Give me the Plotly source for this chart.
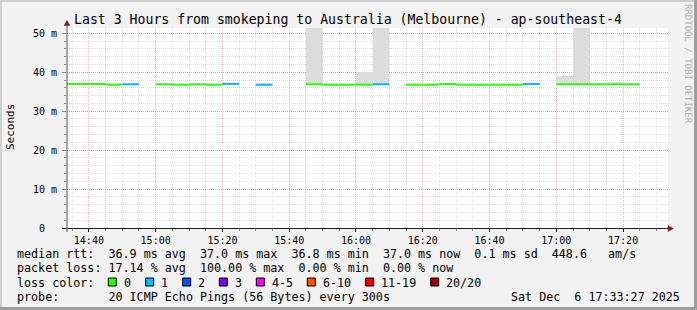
import plotly.graph_objects as go
from datetime import datetime, timedelta

# ---------------- data ----------------
bin_end = ["14:35", "14:40", "14:45", "14:50", "14:55", "15:00", "15:05", "15:10",
           "15:15", "15:20", "15:25", "15:30", "15:35", "15:40", "15:45", "15:50",
           "15:55", "16:00", "16:05", "16:10", "16:15", "16:20", "16:25", "16:30",
           "16:35", "16:40", "16:45", "16:50", "16:55", "17:00", "17:05", "17:10",
           "17:15", "17:20", "17:25"]
median_ms = [37.0, 37.0, 37.0, 36.8, 36.9, None, 36.9, 36.8,
             36.9, 36.8, 37.0, None, 36.8, None, None, 36.9,
             36.8, 36.8, 36.8, 36.9, None, 36.8, 36.8, 37.0,
             36.8, 36.8, 36.8, 36.8, 37.0, None, 36.9, 36.9,
             36.9, 36.9, 36.9]
loss_count = [0, 0, 0, 0, 1, 20, 0, 0,
              0, 0, 1, 20, 1, 20, 20, 0,
              0, 0, 0, 1, 20, 0, 0, 0,
              0, 0, 0, 0, 1, 20, 0, 0,
              0, 0, 0]
# smoke (min / max rtt of the pings) where visible
smoke_bins = ["15:50", "16:05", "16:10", "17:05", "17:10", "17:20"]
smoke_min_ms = [36.7, 36.7, 36.7, 36.7, 36.7, 36.7]
smoke_max_ms = [80.0, 40.0, 80.0, 39.0, 80.0, 37.6]

loss_labels = ["0", "1", "2", "3", "4-5", "6-10", "11-19", "20/20"]
loss_colors = ["#26FF00", "#00B8FF", "#0059FF", "#7E00FF", "#FF00FF", "#FF5500", "#FF0000", "#A10000"]
y_tickvals = [0, 10, 20, 30, 40, 50]
y_ticktext = ["0\u00a0\u00a0", "10 m", "20 m", "30 m", "40 m", "50 m"]

DAY = "2025-12-06 "
X_START = DAY + "14:33:27"
X_END = DAY + "17:33:27"
MONO = "DejaVu Sans Mono"


def t(s):
    return datetime.strptime(DAY + s, "%Y-%m-%d %H:%M")


def loss_idx(n):
    if n <= 3:
        return n
    if n <= 5:
        return 4
    if n <= 10:
        return 5
    if n <= 19:
        return 6
    return 7


STEP = timedelta(minutes=5)

fig = go.Figure()

# smoke
fig.add_trace(go.Bar(
    x=[t(s) - STEP / 2 for s in smoke_bins],
    y=[mx - mn for mn, mx in zip(smoke_min_ms, smoke_max_ms)],
    base=smoke_min_ms,
    width=STEP.total_seconds() * 1000,
    marker=dict(color="#DCDCDC", line=dict(width=0)),
    hoverinfo="skip",
))

# median line coloured by loss
for ci, col in enumerate(loss_colors):
    xs, ys = [], []
    for s, v, n in zip(bin_end, median_ms, loss_count):
        if v is None or loss_idx(n) != ci:
            continue
        xs += [t(s) - STEP, t(s), None]
        ys += [v, v, None]
    if xs:
        fig.add_trace(go.Scatter(x=xs, y=ys, mode="lines",
                                 line=dict(color=col, width=2),
                                 hoverinfo="skip"))

# ---------------- layout ----------------
L, R, T, B = 67, 668, 28, 228


def px(x):
    return (x - L) / (R - L)


def py(y):
    return (B - y) / (B - T)


grid_minor = "rgba(143,143,143,0.30)"
grid_major = "rgba(222,80,80,0.40)"

fig.update_layout(
    width=697, height=310,
    margin=dict(l=L, r=697 - R, t=T, b=310 - B),
    paper_bgcolor="#F2F2F2", plot_bgcolor="#FFFFFF",
    showlegend=False, bargap=0,
    font=dict(family=MONO, size=10, color="#000000"),
    xaxis=dict(
        type="date", range=[X_START, X_END],
        tick0=DAY + "14:40:00", dtick=20 * 60 * 1000, tickformat="%H:%M",
        showgrid=True, gridcolor=grid_major, griddash="1px,1px", gridwidth=1,
        ticks="outside", ticklen=3, tickcolor="#1F1F1F",
        showline=False, zeroline=False,
        tickfont=dict(family=MONO, size=10, color="#000000"),
        minor=dict(tick0=DAY + "14:40:00", dtick=5 * 60 * 1000, showgrid=True,
                   gridcolor=grid_minor, griddash="1px,1px", gridwidth=1,
                   ticks="outside", ticklen=2, tickcolor="#8F8F8F"),
    ),
    yaxis=dict(
        range=[0, 51.36],
        tickvals=y_tickvals, ticktext=y_ticktext,
        showgrid=True, gridcolor=grid_major, griddash="1px,1px", gridwidth=1,
        ticks="outside", ticklen=4, tickcolor="#8F8F8F", ticklabelstandoff=3,
        showline=False, zeroline=False,
        tickfont=dict(family=MONO, size=10, color="#000000"),
        minor=dict(dtick=2, showgrid=True, gridcolor=grid_minor,
                   griddash="1px,1px", gridwidth=1,
                   ticks="outside", ticklen=2, tickcolor="#8F8F8F"),
    ),
)

shapes = []
# border shading
shapes.append(dict(type="rect", xref="paper", yref="paper", x0=px(0), x1=px(697), y0=py(0), y1=py(2),
                   fillcolor="#CFCFCF", line=dict(width=0), layer="below"))
shapes.append(dict(type="rect", xref="paper", yref="paper", x0=px(0), x1=px(2), y0=py(0), y1=py(310),
                   fillcolor="#CFCFCF", line=dict(width=0), layer="below"))
shapes.append(dict(type="rect", xref="paper", yref="paper", x0=px(0), x1=px(697), y0=py(307), y1=py(310),
                   fillcolor="#9E9E9E", line=dict(width=0), layer="below"))
shapes.append(dict(type="rect", xref="paper", yref="paper", x0=px(694), x1=px(697), y0=py(0), y1=py(310),
                   fillcolor="#9E9E9E", line=dict(width=0), layer="below"))
# axes
shapes.append(dict(type="line", xref="paper", yref="paper", x0=px(62), x1=px(669), y0=py(228.5), y1=py(228.5),
                   line=dict(color="#1F1F1F", width=1)))
shapes.append(dict(type="line", xref="paper", yref="paper", x0=px(67), x1=px(67), y0=py(232), y1=py(25),
                   line=dict(color="#555555", width=1)))
# arrows
shapes.append(dict(type="path", xref="paper", yref="paper",
                   path=f"M {px(668)} {py(225.5)} L {px(673.5)} {py(228.5)} L {px(668)} {py(231.5)} Z",
                   fillcolor="#7F1F1F", line=dict(color="#7F1F1F", width=0.5)))
shapes.append(dict(type="path", xref="paper", yref="paper",
                   path=f"M {px(64)} {py(25.5)} L {px(67)} {py(20.5)} L {px(70)} {py(25.5)} Z",
                   fillcolor="#7F1F1F", line=dict(color="#7F1F1F", width=0.5)))

ann = []


def text(x, y, s, size=11.7, xanchor="left", color="#000000", angle=0, yanchor="middle"):
    ann.append(dict(x=px(x), y=py(y), xref="paper", yref="paper", text=s.replace(" ", "\u00a0"),
                    showarrow=False, xanchor=xanchor, yanchor=yanchor, borderpad=0,
                    textangle=angle, font=dict(family=MONO, size=size, color=color)))


text(347.7, 19, "Last 3 Hours from smokeping to Australia (Melbourne) - ap-southeast-4", size=13.2, xanchor="center")
text(10, 127, "Seconds", size=11, xanchor="center", angle=-90)
text(688, 3, "RRDTOOL / TOBI OETIKER", size=9, xanchor="center", color="#AAAAAA", angle=90, yanchor="top")

text(16, 254.3, "median rtt:  36.9 ms avg  37.0 ms max  36.8 ms min  37.0 ms now  0.1 ms sd  448.6   am/s")
text(16, 268.3, "packet loss: 17.14 % avg  100.00 % max  0.00 % min  0.00 % now")
text(16, 282.5, "loss color:")
text(16, 296.7, "probe:       20 ICMP Echo Pings (56 Bytes) every 300s")
text(681, 296.7, "Sat Dec  6 17:33:27 2025", xanchor="right")

sq_x = [108.3, 145.7, 182.7, 219.3, 256.3, 307.3, 365.7, 430.7]
lab_x = [123, 160, 197, 234, 270.7, 322, 380, 445]
for lab, col, sx, lx in zip(loss_labels, loss_colors, sq_x, lab_x):
    shapes.append(dict(type="rect", xref="paper", yref="paper", x0=px(sx), x1=px(sx + 8),
                       y0=py(278), y1=py(286), fillcolor=col, line=dict(color="#000000", width=1)))
    text(lx, 282.5, lab)

fig.update_layout(shapes=shapes, annotations=ann)
fig.write_html("out.html")
